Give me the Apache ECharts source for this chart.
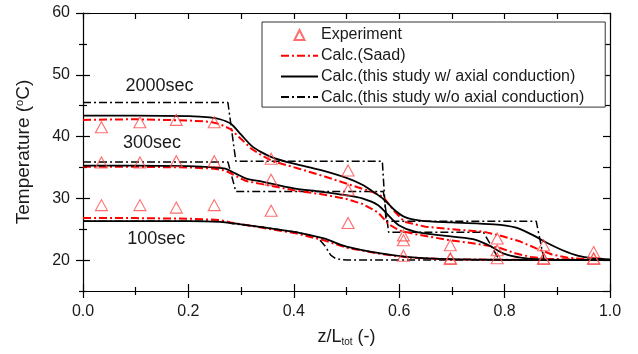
<!DOCTYPE html>
<html>
<head>
<meta charset="utf-8">
<script src="https://cdn.jsdelivr.net/npm/echarts@6/dist/echarts.min.js"></script>
<style>
  html, body { margin: 0; padding: 0; background: #fff; }
  #chart { width: 638px; height: 354px; }
</style>
</head>
<body>
<div id="chart"></div>
<script>
// x ticks / y ticks
const xTicks = [0, 0.2, 0.4, 0.6, 0.8, 1.0];
const yMajor = [20, 30, 40, 50, 60];
const yMinor = [15, 25, 35, 45, 55];

// measured temperatures [z/Ltot, T]
const exp2000 = [[0.035, 41.5], [0.108, 42.3], [0.177, 42.7], [0.249, 42.3], [0.357, 36.4], [0.503, 34.5], [0.608, 24.0], [0.697, 22.4], [0.786, 23.5], [0.874, 22.4], [0.969, 21.3]];
const exp300 = [[0.035, 35.8], [0.108, 35.8], [0.177, 36.0], [0.249, 36.0], [0.357, 33.0], [0.503, 31.4], [0.608, 23.2], [0.697, 20.3], [0.786, 21.6], [0.874, 20.3], [0.969, 20.3]];
const exp100 = [[0.035, 28.9], [0.108, 28.9], [0.177, 28.5], [0.249, 28.9], [0.357, 28.0], [0.503, 26.0], [0.608, 20.7], [0.697, 20.2], [0.786, 20.3], [0.874, 20.2], [0.969, 20.2]];

// Calc. (Saad)
const saad2000 = [[0, 42.7], [0.1, 42.8], [0.2, 42.6], [0.24, 42.4], [0.26, 42.0], [0.28, 41.2], [0.30, 39.6], [0.32, 38.0], [0.34, 36.9], [0.36, 36.0], [0.41, 34.8], [0.46, 33.5], [0.51, 32.1], [0.55, 31.0], [0.57, 30.2], [0.59, 28.0], [0.61, 26.2], [0.65, 25.4], [0.70, 25.0], [0.76, 24.6], [0.79, 24.0], [0.83, 23.0], [0.86, 21.9], [0.89, 20.9], [0.92, 20.4], [0.96, 20.1], [1.0, 20.0]];
const saad300 = [[0, 35.1], [0.1, 35.1], [0.2, 35.0], [0.25, 34.8], [0.27, 34.5], [0.29, 33.6], [0.31, 32.8], [0.34, 32.3], [0.40, 31.3], [0.45, 30.7], [0.50, 29.9], [0.53, 29.1], [0.56, 27.7], [0.58, 25.8], [0.60, 24.8], [0.63, 24.2], [0.69, 23.3], [0.75, 22.6], [0.79, 22.0], [0.82, 21.1], [0.85, 20.5], [0.88, 20.2], [1.0, 20.0]];
const saad100 = [[0, 26.8], [0.1, 26.8], [0.2, 26.7], [0.26, 26.5], [0.28, 26.1], [0.30, 25.8], [0.343, 25.2], [0.406, 24.3], [0.457, 23.2], [0.50, 22.0], [0.565, 21.0], [0.62, 20.4], [0.70, 20.1], [1.0, 20.0]];

// Calc. (this study w/ axial conduction)
const withAx2000 = [[0, 43.4], [0.1, 43.4], [0.2, 43.3], [0.24, 43.1], [0.26, 42.8], [0.28, 42.1], [0.30, 40.3], [0.32, 38.5], [0.34, 37.4], [0.36, 36.6], [0.40, 35.6], [0.45, 34.6], [0.50, 33.3], [0.53, 32.2], [0.55, 31.1], [0.57, 29.9], [0.59, 28.2], [0.61, 27.0], [0.64, 26.4], [0.70, 26.1], [0.78, 25.8], [0.82, 25.3], [0.85, 24.2], [0.88, 22.8], [0.91, 21.6], [0.94, 20.7], [0.97, 20.3], [1.0, 20.1]];
const withAx300 = [[0, 35.3], [0.1, 35.3], [0.2, 35.2], [0.25, 35.0], [0.27, 34.8], [0.29, 34.0], [0.31, 33.2], [0.34, 32.7], [0.40, 31.6], [0.45, 31.1], [0.50, 30.5], [0.53, 30.0], [0.56, 28.9], [0.58, 27.2], [0.60, 25.6], [0.63, 24.6], [0.68, 24.0], [0.74, 23.4], [0.77, 22.4], [0.80, 21.0], [0.83, 20.4], [0.87, 20.1], [1.0, 20.0]];
const withAx100 = [[0, 26.3], [0.1, 26.3], [0.2, 26.3], [0.26, 26.2], [0.28, 26.0], [0.30, 25.8], [0.343, 25.3], [0.406, 24.5], [0.457, 23.5], [0.50, 22.2], [0.565, 21.1], [0.62, 20.5], [0.70, 20.15], [0.8, 20.05], [1.0, 20.0]];

// Calc. (this study w/o axial conduction)
const noAx2000 = [[0, 45.5], [0.275, 45.5], [0.29, 36.0], [0.568, 36.0], [0.575, 26.3], [0.86, 26.3], [0.875, 20.0], [1.0, 20.0]];
const noAx300 = [[0, 35.9], [0.275, 35.9], [0.29, 31.1], [0.57, 31.1], [0.58, 24.5], [0.76, 24.5], [0.79, 20.0], [1.0, 20.0]];
const noAx100 = [[0, 26.3], [0.27, 26.3], [0.285, 25.9], [0.343, 25.3], [0.406, 24.5], [0.445, 23.7], [0.46, 22.2], [0.47, 20.8], [0.48, 20.2], [0.50, 20.0], [1.0, 20.0]];

// time labels [z, T, text]
const timeLabels = [[0.145, 48.2, '2000sec'], [0.131, 38.9, '300sec'], [0.139, 23.4, '100sec']];

const FONT = 'Liberation Sans, Arial, sans-serif';
const TXT = '#1a1a1a';
const names = ['Experiment', 'Calc.(Saad)', 'Calc.(this study w/ axial conduction)', 'Calc.(this study w/o axial conduction)'];

const chart = echarts.init(document.getElementById('chart'));

const baseX = { type: 'value', min: 0, max: 1, gridIndex: 0 };
const baseY = { type: 'value', min: 15, max: 60, gridIndex: 0 };
const blackLine = { lineStyle: { color: '#000', width: 1.2 } };
const tickStyle = { color: '#000', width: 1.2 };

const expSeries = (data) => ({
    name: names[0], type: 'scatter', data: data,
    symbol: 'triangle', symbolSize: [12, 11], z: 5,
    itemStyle: { color: 'rgba(255,255,255,0)', borderColor: '#ff4a4a', borderWidth: 1.1 }
});
const saadSeries = (data) => ({
    name: names[1], type: 'line', data: data, symbol: 'none', z: 3,
    itemStyle: { color: '#ff0000' },
    lineStyle: { color: '#ff0000', width: 2, type: [8, 3, 2, 3] }
});
const withSeries = (data) => ({
    name: names[2], type: 'line', data: data, symbol: 'none', smooth: 0.3, z: 4,
    itemStyle: { color: '#000' },
    lineStyle: { color: '#000', width: 1.8 }
});
const noSeries = (data) => ({
    name: names[3], type: 'line', data: data, symbol: 'none', z: 2,
    itemStyle: { color: '#000' },
    lineStyle: { color: '#000', width: 1.5, type: [8, 3, 2, 3] }
});

const option = {
    animation: false,
    backgroundColor: '#fff',
    textStyle: { fontFamily: FONT, color: TXT },
    grid: { left: 83, right: 28, top: 13, bottom: 63 },
    legend: {
        data: [
            // small triangle inside a padded box so it is not stretched
            { name: names[0], icon: 'path://M0,0L0,0M14,14L14,14M2,12L7,2L12,12Z' },
            { name: names[1], itemStyle: { opacity: 0 } },
            { name: names[2], itemStyle: { opacity: 0 } },
            { name: names[3], itemStyle: { opacity: 0 } }
        ],
        orient: 'vertical',
        left: 262, top: 22,
        padding: [5, 21, 2, 18],
        itemGap: 4.7,
        itemWidth: 37, itemHeight: 14,
        symbolKeepAspect: true,
        borderColor: '#333', borderWidth: 1,
        backgroundColor: '#fff',
        textStyle: { fontFamily: FONT, fontSize: 16, color: TXT, padding: [0, 0, 0, -2] }
    },
    xAxis: [
        Object.assign({}, baseX, {
            position: 'bottom', interval: 0.2,
            axisLine: blackLine,
            axisTick: { length: 7, lineStyle: tickStyle },
            minorTick: { show: true, splitNumber: 2, length: 4, lineStyle: tickStyle },
            splitLine: { show: false },
            axisLabel: { margin: 13, fontSize: 16, color: TXT, fontFamily: FONT, formatter: v => v.toFixed(1) },
            name: 'z/L{sub|tot} (-)', nameLocation: 'middle', nameGap: 36,
            nameTextStyle: {
                fontSize: 18, color: TXT, fontFamily: FONT,
                rich: { sub: { fontSize: 10, verticalAlign: 'bottom', padding: [10, 0, 0, 0], fontFamily: FONT, color: TXT } }
            }
        }),
        Object.assign({}, baseX, {
            position: 'bottom', interval: 0.2,
            axisLine: { show: false },
            axisTick: { inside: true, length: 7, lineStyle: tickStyle },
            minorTick: { show: true, splitNumber: 2, length: 4, lineStyle: tickStyle },
            splitLine: { show: false }, axisLabel: { show: false }
        }),
        Object.assign({}, baseX, {
            position: 'top', interval: 0.1,
            axisLine: blackLine,
            axisTick: { inside: true, length: 6, lineStyle: tickStyle },
            splitLine: { show: false }, axisLabel: { show: false }
        })
    ],
    yAxis: [
        Object.assign({}, baseY, {
            position: 'left', interval: 5,
            axisLine: blackLine,
            axisTick: { customValues: yMajor, length: 7, lineStyle: tickStyle },
            axisLabel: { customValues: yMajor, margin: 13, fontSize: 16, color: TXT, fontFamily: FONT },
            splitLine: { show: false },
            name: 'Temperature ({sup|o}C)', nameLocation: 'middle', nameGap: 50,
            nameTextStyle: {
                fontSize: 19, color: TXT, fontFamily: FONT,
                rich: { sup: { fontSize: 11, verticalAlign: 'top', padding: [0, 0, 8, 0], fontFamily: FONT, color: TXT } }
            }
        }),
        Object.assign({}, baseY, {
            position: 'left', interval: 5,
            axisLine: { show: false },
            axisTick: { customValues: yMajor, inside: true, length: 7, lineStyle: tickStyle },
            axisLabel: { show: false }, splitLine: { show: false }
        }),
        Object.assign({}, baseY, {
            position: 'left', interval: 5,
            axisLine: { show: false },
            axisTick: { customValues: yMinor, length: 4, lineStyle: tickStyle },
            axisLabel: { show: false }, splitLine: { show: false }
        }),
        Object.assign({}, baseY, {
            position: 'left', interval: 5,
            axisLine: { show: false },
            axisTick: { customValues: yMinor, inside: true, length: 4, lineStyle: tickStyle },
            axisLabel: { show: false }, splitLine: { show: false }
        }),
        Object.assign({}, baseY, {
            position: 'right', interval: 5,
            axisLine: blackLine,
            axisTick: { inside: true, length: 7, lineStyle: tickStyle },
            axisLabel: { show: false }, splitLine: { show: false }
        })
    ],
    series: [
        noSeries(noAx2000), noSeries(noAx300), noSeries(noAx100),
        saadSeries(saad2000), saadSeries(saad300), saadSeries(saad100),
        withSeries(withAx2000), withSeries(withAx300), withSeries(withAx100),
        expSeries(exp2000), expSeries(exp300), expSeries(exp100)
    ]
};

chart.setOption(option);

// time annotations placed in data coordinates
chart.setOption({
    graphic: timeLabels.map(([z, t, text]) => {
        const p = chart.convertToPixel({ gridIndex: 0 }, [z, t]);
        return {
            type: 'text', x: p[0], y: p[1], z: 10,
            style: { text: text, fontSize: 18, fontFamily: FONT, fill: TXT, align: 'center', verticalAlign: 'middle' }
        };
    })
});
</script>
</body>
</html>
